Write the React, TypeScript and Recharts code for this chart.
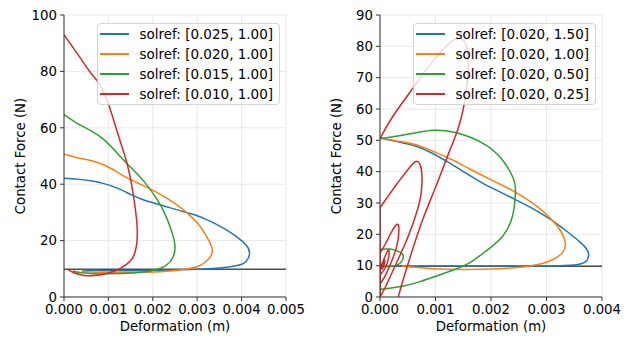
import React from "react";
import { CartesianGrid, Line, LineChart, ReferenceLine, XAxis, YAxis } from "recharts";

type Pt = [number, number]; // [deformation (m), force (N)]

const COLORS = ["#1f77b4", "#ff7f0e", "#2ca02c", "#d62728"];
const FONT = "DejaVu Sans";
const WEIGHT = 9.81; // m*g, linha horizontal

// painel esquerdo: varia timeconst
const leftLabels = ["solref: [0.025, 1.00]", "solref: [0.020, 1.00]", "solref: [0.015, 1.00]", "solref: [0.010, 1.00]"];
const leftXTicks = [0, 0.001, 0.002, 0.003, 0.004, 0.005];
const leftYTicks = [0, 20, 40, 60, 80, 100];

const leftBlue: Pt[] = [
  [0, 42.1], [0.0003, 41.8], [0.0006, 41.2], [0.0009, 40.2], [0.0012, 38.6], [0.0015, 36.4],
  [0.0018, 34.4], [0.0021, 33.0], [0.0024, 31.6], [0.0027, 30.2], [0.003, 28.8], [0.0033, 26.8],
  [0.0036, 24.3], [0.0039, 21.2], [0.0041, 18.4], [0.00418, 15.6], [0.0041, 12.6], [0.0039, 11.2],
  [0.0035, 10.3], [0.003, 9.8], [0.0025, 9.6], [0.002, 9.4], [0.0015, 9.3], [0.001, 9.3], [0.0004, 9.6],
];
const leftOrange: Pt[] = [
  [0, 50.6], [0.0003, 49.4], [0.0006, 48.4], [0.0009, 46.8], [0.0012, 44.3], [0.0015, 41.6],
  [0.0018, 39.4], [0.0021, 37.0], [0.0024, 34.2], [0.0027, 30.8], [0.003, 26.3], [0.0032, 21.8],
  [0.00333, 17.5], [0.0033, 14.3], [0.0031, 11.5], [0.0028, 10.0], [0.0024, 9.2], [0.0019, 8.8],
  [0.0013, 8.6], [0.0008, 8.7], [0.0004, 9.1],
];
const leftGreen: Pt[] = [
  [0, 64.7], [0.0003, 61.6], [0.0006, 59.0], [0.0009, 55.8], [0.0012, 51.0], [0.0015, 46.0],
  [0.0018, 41.0], [0.0021, 34.5], [0.0023, 28.5], [0.00243, 23.0], [0.0025, 18.0], [0.00245, 14.0],
  [0.0023, 11.2], [0.002, 9.4], [0.0016, 8.6], [0.0012, 8.3], [0.0008, 8.2], [0.0004, 8.6], [0.0002, 9.2],
];
const leftRed: Pt[] = [
  [0, 93.0], [0.0002, 88.5], [0.0004, 84.0], [0.0006, 79.5], [0.0008, 75.5], [0.001, 68.5],
  [0.0012, 58.5], [0.0014, 48.5], [0.00152, 40.0], [0.0016, 32.0], [0.00165, 24.0], [0.00163, 18.0],
  [0.00155, 14.0], [0.0014, 11.5], [0.0012, 9.6], [0.001, 8.5], [0.0008, 7.8], [0.0006, 7.5],
  [0.0004, 7.8], [0.0002, 8.8], [0.0001, 9.6],
];

// painel direito: varia dampratio
const rightLabels = ["solref: [0.020, 1.50]", "solref: [0.020, 1.00]", "solref: [0.020, 0.50]", "solref: [0.020, 0.25]"];
const rightXTicks = [0, 0.001, 0.002, 0.003, 0.004];
const rightYTicks = [0, 10, 20, 30, 40, 50, 60, 70, 80, 90];

const rightBlue: Pt[] = [
  [0, 50.8], [0.0003, 49.6], [0.00065, 48.1], [0.00095, 45.8], [0.00125, 42.8], [0.00155, 39.5],
  [0.00184, 36.4], [0.00214, 33.7], [0.00244, 31.1], [0.00272, 28.5], [0.00298, 25.8], [0.0032, 23.2],
  [0.0034, 20.5], [0.0036, 17.6], [0.00372, 15.4], [0.00376, 13.3], [0.0037, 11.2], [0.0035, 10.2],
  [0.0031, 9.9], [0.0025, 9.9], [0.0018, 9.9], [0.001, 9.9], [0.0003, 9.9],
];
const rightOrange: Pt[] = [
  [0, 50.8], [0.0003, 49.8], [0.00065, 48.6], [0.00102, 46.0], [0.0013, 43.8], [0.0016, 41.0],
  [0.0019, 38.3], [0.00221, 35.6], [0.0025, 32.8], [0.0028, 29.3], [0.003, 26.3], [0.0032, 22.5],
  [0.0033, 19.5], [0.00334, 17.0], [0.0033, 14.5], [0.0031, 11.8], [0.0027, 9.9], [0.0021, 9.0],
  [0.0015, 8.8], [0.0009, 9.1], [0.0004, 9.8],
];
const rightGreen: Pt[] = [
  [0, 50.5], [0.00029, 51.3], [0.00065, 52.4], [0.00095, 53.2], [0.00136, 52.5], [0.00184, 49.2],
  [0.0022, 43.9], [0.00241, 37.5], [0.00244, 33.2], [0.00239, 26.0], [0.00221, 19.4], [0.00192, 14.8],
  [0.00162, 11.0], [0.00132, 8.6], [0.00102, 6.7], [0.00072, 4.9], [0.00042, 3.5], [0.0001, 2.6], [0, 2.5],
];
const rightGreenTail: Pt[] = [
  [0, 15.2], [0.00018, 15.3], [0.00036, 14.3], [0.00042, 12.6], [0.00033, 10.4], [0.00018, 9.7], [0.00005, 9.8],
];
const rightRedLoops: Pt[][] = [
  [
    [0, 50.6], [0.00023, 57.6], [0.00053, 65.1], [0.00083, 72.5], [0.00113, 78.9], [0.00136, 82.3],
    [0.00152, 81.6], [0.00159, 75.7], [0.00155, 65.1], [0.00142, 54.5], [0.00124, 46.0], [0.00101, 35.4],
    [0.00077, 24.7], [0.00053, 12.0], [0.00035, 1.4], [0.0003, -3],
  ],
  [
    [0, 28.5], [0.00012, 31.5], [0.0003, 36.0], [0.0005, 40.6], [0.00066, 43.3], [0.00075, 40.0],
    [0.00074, 33.0], [0.00066, 27.0], [0.0005, 19.0], [0.0003, 11.0], [0.00012, 4.0], [0, 0],
  ],
  [
    [0, 14.0], [0.0001, 17.0], [0.0002, 20.5], [0.00031, 23.2], [0.00034, 21.0], [0.0003, 16.0],
    [0.0002, 11.0], [0.0001, 7.0], [0, 4.0],
  ],
  [[0, 9.0], [0.00008, 12.5], [0.00015, 15.0], [0.00016, 13.0], [0.0001, 9.5], [0, 7.0]],
  [[0, 8.5], [0.00005, 10.5], [0.00008, 12.0], [0.00006, 9.5], [0, 9.0]],
];
const rightRedWall: Pt[] = [[0, -3], [0, 28.5]];

const toPts = (a: Pt[]) => a.map(([d, f]) => ({ d, f }));

type Seg = { pts: Pt[]; color: string; curve?: "natural" | "linear" };

const YLabel = ({ viewBox }: any) => {
  const x = viewBox.x + 25;
  const y = viewBox.y + viewBox.height / 2;
  return (
    <text x={x} y={y} transform={`rotate(-90, ${x}, ${y})`} textAnchor="middle" fontSize={13.3} fontFamily={FONT} fill="#000">
      Contact Force (N)
    </text>
  );
};

const XLabel = ({ viewBox }: any) => (
  <text x={viewBox.x + viewBox.width / 2} y={331} textAnchor="middle" fontSize={13.3} fontFamily={FONT} fill="#000">
    Deformation (m)
  </text>
);

function Legend({ labels, left }: { labels: string[]; left: number }) {
  return (
    <div
      style={{
        position: "absolute", left, top: 23, width: 183, height: 82, boxSizing: "border-box",
        border: "1px solid #d3d3d3", borderRadius: 4, background: "rgba(255,255,255,0.8)",
      }}
    >
      {labels.map((l, i) => (
        <div key={l} style={{ position: "absolute", left: 0, top: 0.3 + i * 20, height: 20, display: "flex", alignItems: "center" }}>
          <div style={{ marginLeft: 2, width: 29, height: 2, background: COLORS[i] }} />
          <span style={{ marginLeft: 10.5, fontSize: 13.5, fontFamily: FONT, color: "#000", whiteSpace: "nowrap" }}>{l}</span>
        </div>
      ))}
    </div>
  );
}

function Panel({ segs, xTicks, yTicks, labels }: { segs: Seg[]; xTicks: number[]; yTicks: number[]; labels: string[] }) {
  const xMax = xTicks[xTicks.length - 1];
  const yMax = yTicks[yTicks.length - 1];
  const tick = { fontSize: 13.3, fontFamily: FONT, fill: "#000" };
  return (
    <div style={{ position: "relative", width: 316, height: 339 }}>
      <LineChart width={316} height={339} margin={{ top: 15, right: 30, bottom: 0, left: 0 }}>
        <CartesianGrid stroke="#e8e8e8" strokeWidth={1} />
        <XAxis
          type="number"
          dataKey="d"
          domain={[0, xMax]}
          ticks={xTicks}
          allowDataOverflow
          height={42}
          tickSize={4}
          tickMargin={4}
          stroke="#333"
          tick={tick}
          tickFormatter={(v) => Number(v).toFixed(3)}
          label={<XLabel />}
        />
        <YAxis
          type="number"
          dataKey="f"
          domain={[0, yMax]}
          ticks={yTicks}
          allowDataOverflow
          width={64}
          tickSize={4}
          tickMargin={3}
          stroke="#333"
          tick={tick}
          label={<YLabel />}
        />
        <ReferenceLine y={WEIGHT} stroke="#4d4d4d" strokeWidth={1.5} />
        {segs.map((s, i) => (
          <Line
            key={i}
            data={toPts(s.pts)}
            dataKey="f"
            type={s.curve ?? "natural"}
            stroke={s.color}
            strokeWidth={1.5}
            dot={false}
            activeDot={false}
            isAnimationActive={false}
          />
        ))}
      </LineChart>
      <Legend labels={labels} left={97} />
    </div>
  );
}

export default function App() {
  const leftSegs: Seg[] = [leftBlue, leftOrange, leftGreen, leftRed].map((pts, i) => ({ pts, color: COLORS[i] }));
  const rightSegs: Seg[] = [
    { pts: rightBlue, color: COLORS[0] },
    { pts: rightOrange, color: COLORS[1] },
    { pts: rightGreen, color: COLORS[2] },
    { pts: [[0, 2.5], [0, 15.2]], color: COLORS[2], curve: "linear" },
    { pts: rightGreenTail, color: COLORS[2] },
    ...rightRedLoops.map((pts) => ({ pts, color: COLORS[3] })),
    { pts: rightRedWall, color: COLORS[3], curve: "linear" },
  ];
  return (
    <div style={{ position: "absolute", left: 0, top: 0, width: 632, height: 339, background: "#fff", display: "flex" }}>
      <Panel segs={leftSegs} xTicks={leftXTicks} yTicks={leftYTicks} labels={leftLabels} />
      <Panel segs={rightSegs} xTicks={rightXTicks} yTicks={rightYTicks} labels={rightLabels} />
    </div>
  );
}
